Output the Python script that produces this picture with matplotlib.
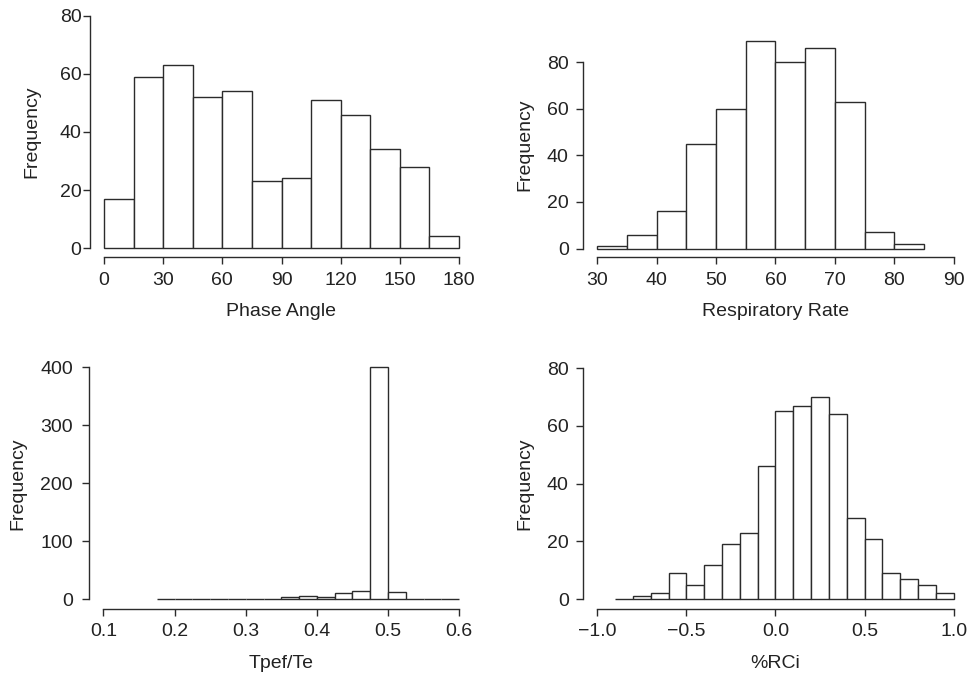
import numpy as np
import matplotlib
matplotlib.use("Agg")
import matplotlib.pyplot as plt

plt.rcParams['font.family'] = ['Liberation Sans', 'DejaVu Sans']

# ---- data ----
phase_edges = [0, 15, 30, 45, 60, 75, 90, 105, 120, 135, 150, 165, 180]
phase_counts = [17, 59, 63, 52, 54, 23, 24, 51, 46, 34, 28, 4]
phase_xticks = [0, 30, 60, 90, 120, 150, 180]
phase_yticks = [0, 20, 40, 60, 80]

resp_edges = [30, 35, 40, 45, 50, 55, 60, 65, 70, 75, 80, 85]
resp_counts = [1, 6, 16, 45, 60, 89, 80, 86, 63, 7, 2]
resp_xticks = [30, 40, 50, 60, 70, 80, 90]
resp_yticks = [0, 20, 40, 60, 80]

tpef_edges = [0.175, 0.2, 0.225, 0.25, 0.275, 0.3, 0.325, 0.35, 0.375, 0.4,
              0.425, 0.45, 0.475, 0.5, 0.525, 0.55, 0.575, 0.6]
tpef_counts = [1, 0.5, 1, 1, 1, 1, 1, 3, 6, 3, 10, 14, 400, 12, 1, 1, 1]
tpef_xticks = [0.1, 0.2, 0.3, 0.4, 0.5, 0.6]
tpef_yticks = [0, 100, 200, 300, 400]

rci_edges = [-0.9, -0.8, -0.7, -0.6, -0.5, -0.4, -0.3, -0.2, -0.1, 0.0, 0.1,
             0.2, 0.3, 0.4, 0.5, 0.6, 0.7, 0.8, 0.9, 1.0]
rci_counts = [0, 1, 2, 9, 5, 12, 19, 23, 46, 65, 67, 70, 64, 28, 21, 9, 7, 5, 2]
rci_xticks = [-1.0, -0.5, 0.0, 0.5, 1.0]
rci_xticklabels = ['\u22121.0', '\u22120.5', '0.0', '0.5', '1.0']
rci_yticks = [0, 20, 40, 60, 80]

W, H = 970, 676
fig = plt.figure(figsize=(W / 100, H / 100), dpi=100)

LC = '#2b2b2b'
TC = '#222222'
FS = 14


def px_axes(left, top, right, bottom):
    ax = fig.add_axes([left / W, 1 - bottom / H, (right - left) / W, (bottom - top) / H])
    ax._px = (left, top, right, bottom)
    return ax


def hist_panel(ax, edges, counts, xticks, yticks, xlabel, ylab_px, xlab_px,
               xlim_range, ylim_range, ypad, xticklabels=None):
    edges = np.asarray(edges, dtype=float)
    ax.bar(edges[:-1], counts, width=np.diff(edges), align='edge',
           facecolor='white', edgecolor=LC, linewidth=1.0)
    x0, x1 = xlim_range
    y0, y1 = ylim_range
    dx = 0.04 * (x1 - x0)
    dy = 0.04 * (y1 - y0)
    ax.set_xlim(x0 - dx, x1 + dx)
    ax.set_ylim(y0 - dy, y1 + dy)
    ax.set_xticks(xticks)
    if xticklabels is not None:
        ax.set_xticklabels(xticklabels)
    ax.set_yticks(yticks)
    for s in ['top', 'right']:
        ax.spines[s].set_visible(False)
    ax.spines['left'].set_bounds(yticks[0], yticks[-1])
    ax.spines['bottom'].set_bounds(xticks[0], xticks[-1])
    for s in ['left', 'bottom']:
        ax.spines[s].set_color(LC)
        ax.spines[s].set_linewidth(1.0)
    ax.tick_params(axis='both', colors=LC, labelcolor=TC, labelsize=FS,
                   length=4.7, width=1.0, direction='out')
    ax.tick_params(axis='y', pad=ypad)
    ax.tick_params(axis='x', pad=6)
    ax.set_ylabel('Frequency', fontsize=FS, color=TC, va='center')
    ax.set_xlabel(xlabel, fontsize=FS, color=TC, va='center')
    left, top, right, bottom = ax._px
    ax.yaxis.set_label_coords((ylab_px - left) / (right - left), 0.5)
    ax.xaxis.set_label_coords(0.5, (bottom - xlab_px) / (bottom - top))
    ax.patch.set_alpha(0)


ax1 = px_axes(89.8, 6.7, 473.2, 257.3)
hist_panel(ax1, phase_edges, phase_counts, phase_xticks, phase_yticks,
           'Phase Angle', 32, 312, (0, 180), (0, 80), ypad=1.2)

ax2 = px_axes(583.0, 32.8, 968.0, 256.8)
hist_panel(ax2, resp_edges, resp_counts, resp_xticks, resp_yticks,
           'Respiratory Rate', 524.5, 312, (30, 90), (0, 89), ypad=5.5)

ax3 = px_axes(89.1, 358.0, 473.5, 608.5)
hist_panel(ax3, tpef_edges, tpef_counts, tpef_xticks, tpef_yticks,
           'Tpef/Te', 18.3, 664, (0.1, 0.6), (0, 400), ypad=7)

ax4 = px_axes(583.0, 358.8, 968.0, 608.5)
hist_panel(ax4, rci_edges, rci_counts, rci_xticks, rci_yticks,
           '%RCi', 524.5, 664, (-1.0, 1.0), (0, 80), ypad=5.5,
           xticklabels=rci_xticklabels)

fig.savefig('out.png', dpi=100, facecolor='white')
